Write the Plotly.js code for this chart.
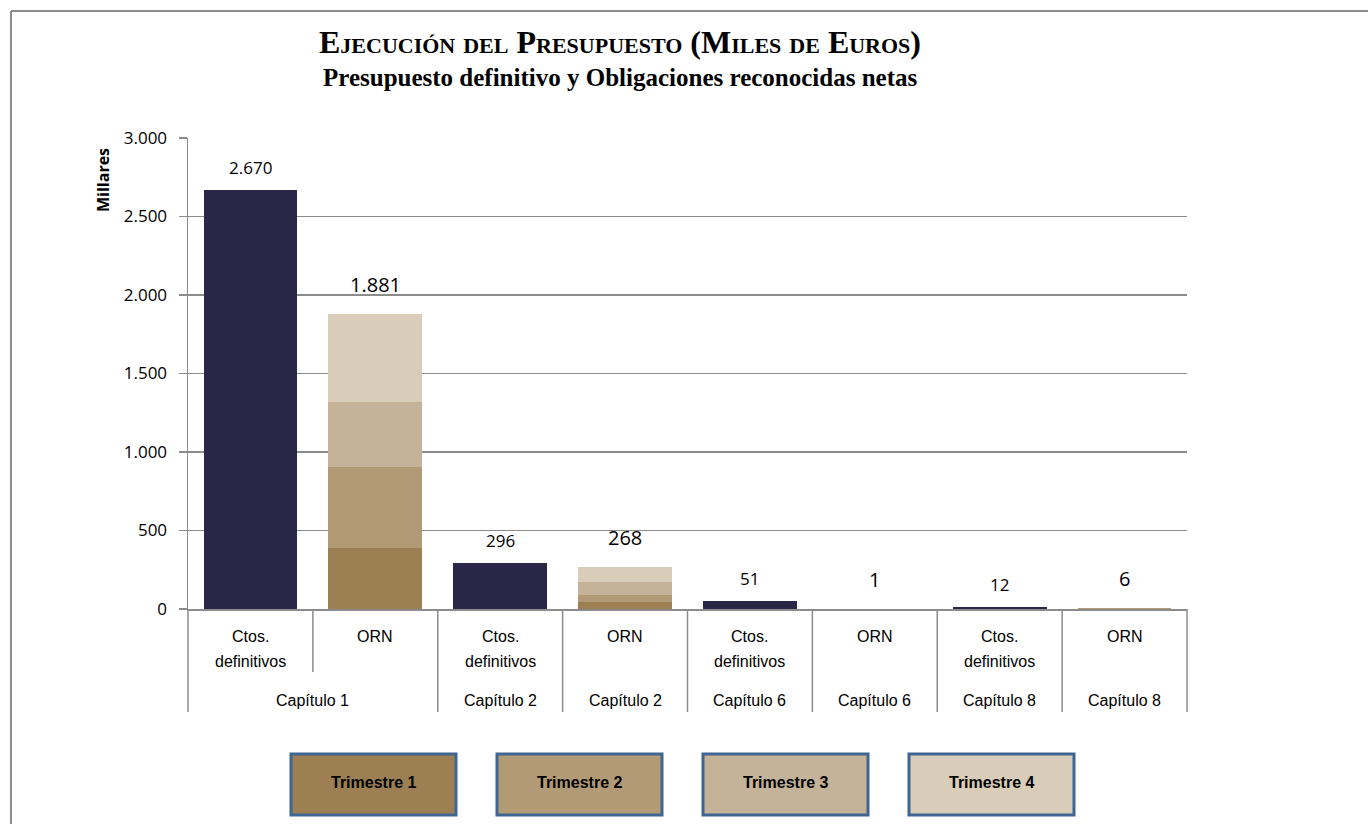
<!DOCTYPE html>
<html>
<head>
<meta charset="utf-8">
<script src="https://cdn.plot.ly/plotly-3.0.1.min.js"></script>
<style>html,body{margin:0;padding:0;background:#fff;}#chart{width:1368px;height:824px;}</style>
</head>
<body>
<div id="chart"></div>
<script>
// ---- Data ----
var chapters = ['Capítulo 1','Capítulo 1','Capítulo 2','Capítulo 2','Capítulo 6','Capítulo 6','Capítulo 8','Capítulo 8'];
var kinds = ['Ctos. definitivos','ORN','Ctos. definitivos','ORN','Ctos. definitivos','ORN','Ctos. definitivos','ORN'];
var kindLabels = ['Ctos.<br>definitivos','ORN','Ctos.<br>definitivos','ORN','Ctos.<br>definitivos','ORN','Ctos.<br>definitivos','ORN'];
var ctosDefinitivos = [2670, null, 296, null, 51, null, 12, null];
var trimestre1 = [null, 390, null, 42, null, 0.3, null, 2];
var trimestre2 = [null, 516, null, 50, null, 0.2, null, 1.5];
var trimestre3 = [null, 410, null, 80, null, 0.2, null, 1.5];
var trimestre4 = [null, 565, null, 96, null, 0.3, null, 1];
var totals = [2670, 1881, 296, 268, 51, 1, 12, 6];
var quarters = ['Trimestre 1','Trimestre 2','Trimestre 3','Trimestre 4'];
var yTicks = [0, 500, 1000, 1500, 2000, 2500, 3000];

// ---- Styles ----
var navy = '#2A2648';
var qColors = ['#9C8054','#B19A75','#C4B399','#D9CDB9'];
var gridGray = '#8C8C8C';
var sansFont = '"Open Sans", "DejaVu Sans", sans-serif';
var narrowFont = '"Liberation Sans", Arial, sans-serif';
var serifFont = '"Liberation Serif", "DejaVu Serif", serif';

var xKeys = chapters.map(function(c, i){ return kinds[i] + ' · ' + c + ' #' + i; });

function fmt(v){
  return String(v).replace(/\B(?=(\d{3})+(?!\d))/g, '.');
}

var traces = [{
  type: 'bar', x: xKeys, y: ctosDefinitivos, name: 'Ctos. definitivos',
  marker: {color: navy}, width: 0.75, hoverinfo: 'y', showlegend: false
}];
[trimestre1, trimestre2, trimestre3, trimestre4].forEach(function(arr, qi){
  traces.push({
    type: 'bar', x: xKeys, y: arr, name: quarters[qi],
    marker: {color: qColors[qi]}, width: 0.75, hoverinfo: 'y+name', showlegend: false
  });
});

// pixel helpers -> paper coords (plot area 188..1187 x 138..609)
var L = 188, R = 1187, T = 138, B = 609;
function px(x){ return (x - L) / (R - L); }
function py(y){ return (B - y) / (B - T); }

var annotations = [];
var shapes = [];

// value labels
totals.forEach(function(v, i){
  var isOrn = kinds[i] === 'ORN';
  annotations.push({
    x: xKeys[i], y: v, xref: 'x', yref: 'y', text: fmt(v), showarrow: false,
    xanchor: 'center', yanchor: 'bottom', yshift: isOrn ? 14 : 9,
    font: {family: sansFont, size: isOrn ? 20 : 17, color: '#000'}
  });
});

// category labels (kind row), one annotation per line
kindLabels.forEach(function(k, i){
  k.split('<br>').forEach(function(line, j){
    annotations.push({
      x: xKeys[i], y: py(636 + 25 * j), xref: 'x', yref: 'paper', text: line, showarrow: false,
      xanchor: 'center', yanchor: 'middle', font: {family: narrowFont, size: 16, color: '#000'}
    });
  });
});
// chapter row: Capítulo 1 spans first two categories
chapters.forEach(function(c, i){
  if (i === 1) return; // merged with 0
  var xc = (i === 0) ? 0.125 : (i + 0.5) / 8;
  annotations.push({
    x: xc, y: py(700), xref: 'paper', yref: 'paper', text: c, showarrow: false,
    xanchor: 'center', yanchor: 'middle', font: {family: narrowFont, size: 16, color: '#000'}
  });
});

// dividers below axis
for (var k = 0; k <= 8; k++){
  var yEnd = (k === 1) ? py(672) : py(712);
  shapes.push({type: 'line', xref: 'paper', yref: 'paper', x0: k/8, x1: k/8, y0: 0, y1: yEnd,
    line: {color: gridGray, width: 1.5}});
}

// legend boxes
var boxX = [291, 497, 703, 909];
quarters.forEach(function(q, i){
  shapes.push({type: 'rect', xref: 'paper', yref: 'paper',
    x0: px(boxX[i]), x1: px(boxX[i] + 165), y0: py(754), y1: py(815),
    fillcolor: qColors[i], line: {color: '#3F6592', width: 3}});
  annotations.push({x: px(boxX[i] + 82.5), y: py(782), xref: 'paper', yref: 'paper', text: '<b>' + q + '</b>',
    xanchor: 'center', yanchor: 'middle',
    showarrow: false, font: {family: narrowFont, size: 16, color: '#000'}});
});

// outer frame (top and left)
shapes.push({type: 'line', xref: 'paper', yref: 'paper', x0: px(11), x1: px(1368), y0: py(11), y1: py(11),
  line: {color: '#8C8C8C', width: 2}});
shapes.push({type: 'line', xref: 'paper', yref: 'paper', x0: px(11), x1: px(11), y0: py(11), y1: py(824),
  line: {color: '#8C8C8C', width: 2}});

// y axis title
annotations.push({x: px(103), y: py(180), xref: 'paper', yref: 'paper', text: '<b>Millares</b>', textangle: -90,
  xanchor: 'center', yanchor: 'middle',
  showarrow: false, font: {family: sansFont, size: 16, color: '#000'}});

// subtitle
annotations.push({x: px(620), y: py(77), xref: 'paper', yref: 'paper',
  text: '<b>Presupuesto definitivo y Obligaciones reconocidas netas</b>',
  xanchor: 'center', yanchor: 'middle',
  showarrow: false, font: {family: serifFont, size: 25, color: '#000'}});

var layout = {
  width: 1368, height: 824,
  margin: {l: L, r: 1368 - R, t: T, b: 824 - B, pad: 0},
  paper_bgcolor: '#fff', plot_bgcolor: '#fff',
  barmode: 'stack', bargap: 0.25,
  separators: ',.',
  showlegend: false,
  title: {
    text: '<b>Ejecución del Presupuesto (Miles de Euros)</b>',
    x: 620/1368, xanchor: 'center', y: 1 - 42/824, yanchor: 'middle',
    font: {family: serifFont, size: 32, color: '#000', variant: 'small-caps'}
  },
  xaxis: {
    type: 'category', range: [-0.5, 7.5], showticklabels: false, ticks: '',
    showgrid: false, showline: true, linecolor: gridGray, linewidth: 1.5, zeroline: false, fixedrange: true
  },
  yaxis: {
    range: [0, 3000], tickvals: yTicks, ticktext: yTicks.map(fmt),
    showgrid: true, gridcolor: gridGray, gridwidth: 1.5,
    showline: true, linecolor: gridGray, linewidth: 1.5,
    ticks: 'outside', ticklen: 8, tickcolor: gridGray, tickwidth: 1.5,
    ticklabelstandoff: 8,
    tickfont: {family: sansFont, size: 17, color: '#000'},
    zeroline: false, fixedrange: true
  },
  annotations: annotations,
  shapes: shapes
};

Plotly.newPlot('chart', traces, layout, {displayModeBar: false, staticPlot: true});
</script>
</body>
</html>
